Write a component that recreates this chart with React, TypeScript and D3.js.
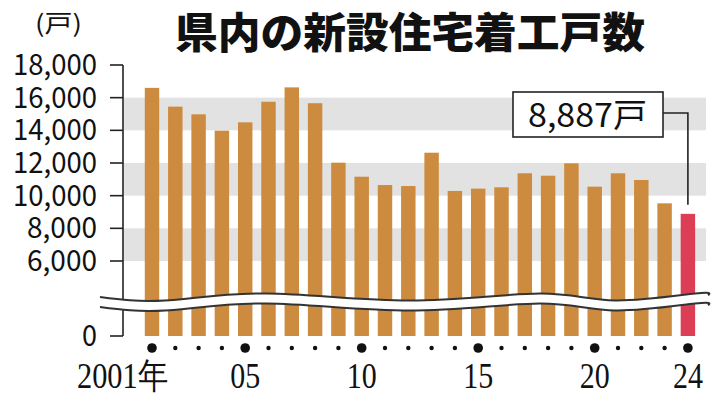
import React from "react";
import * as d3 from "d3";

const years = ["2001","2002","2003","2004","2005","2006","2007","2008","2009","2010","2011","2012","2013","2014","2015","2016","2017","2018","2019","2020","2021","2022","2023","2024"];
const starts = [16600,15450,14980,13980,14490,15750,16630,15660,12020,11160,10650,10590,12630,10290,10430,10510,11370,11220,11980,10550,11370,10960,9530,8887];
const yTicks = [0,6000,8000,10000,12000,14000,16000,18000];
const bands = [[6000,8000],[10000,12000],[14000,16000]];
const majorYears = ["2001","2005","2010","2015","2020","2024"];
const xLabels: Record<string,string> = {"2001":"2001年","2005":"05","2010":"10","2015":"15","2020":"20","2024":"24"};
const title = "県内の新設住宅着工戸数";
const unit = "(戸)";
const callout = "8,887戸";

const W = 711, H = 400;
const BAR = "#CC8B3E";
const LAST = "#DC3F55";

export default function App() {
  const x = d3.scaleBand<string>().domain(years).range([140.35, 699.55]).paddingInner(0.38).paddingOuter(0.19);
  const y = d3.scaleLinear().domain([0, 6000, 18000]).range([336, 261, 65]);
  const cx = (yr: string) => (x(yr) as number) + x.bandwidth() / 2;

  const waveNodes: [number, number][] = [[100,0],[165,1],[267,-1],[410,1],[540,-1],[615,1],[695,-1],[708,-0.5]];
  const amp = 3.5;
  const line = d3.line<[number, number]>().x(d => d[0]).y(d => d[1]).curve(d3.curveNatural);
  const upper = waveNodes.map(([a, b]) => [a, 297 + b * amp] as [number, number]);
  const lower = waveNodes.map(([a, b]) => [a, 307 + b * amp] as [number, number]);
  const area = d3.area<[number, number]>().x(d => d[0]).y0(d => d[1]).y1(d => d[1] + 10).curve(d3.curveNatural);

  const lastYr = years[years.length - 1];
  const lastTop = y(starts[starts.length - 1]);

  return (
    <div style={{ position: "absolute", left: 0, top: 0 }}>
      <svg width={W} height={H} style={{ display: "block", background: "#fff" }}>
        {bands.map(([a, b], i) => (
          <rect key={i} x={124} y={y(b)} width={582} height={y(a) - y(b)} fill="#E2E2E2" />
        ))}
        {years.map((yr, i) => (
          <rect key={yr} x={x(yr)} y={y(starts[i])} width={x.bandwidth()} height={y(0) - y(starts[i])}
            fill={i === years.length - 1 ? LAST : BAR} />
        ))}
        <line x1={123} x2={123} y1={y(18000)} y2={y(0)} stroke="#222" strokeWidth={1.6} />
        {yTicks.map(t => (
          <g key={t}>
            <line x1={110} x2={123} y1={y(t)} y2={y(t)} stroke="#222" strokeWidth={1.6} />
            <text x={97} y={y(t) + 10} textAnchor="end" fontFamily="'Noto Sans CJK JP', 'Noto Sans', sans-serif"
              fontSize={29} fill="#111" textLength={t === 0 ? 15 : t >= 10000 ? 84 : 70} lengthAdjust="spacingAndGlyphs">
              {d3.format(",")(t)}
            </text>
          </g>
        ))}
        <path d={area(upper) as string} fill="#fff" />
        <path d={line(upper) as string} fill="none" stroke="#333" strokeWidth={2} />
        <path d={line(lower) as string} fill="none" stroke="#333" strokeWidth={2} />
        {years.map(yr => (
          <circle key={yr} cx={cx(yr)} cy={348} r={majorYears.includes(yr) ? 4.8 : 2.2} fill="#111" />
        ))}
        {majorYears.map(yr => {
          const lab = xLabels[yr];
          const isFirst = yr === "2001";
          return (
            <text key={yr} x={isFirst ? 168 : cx(yr)} y={388} textAnchor={isFirst ? "end" : "middle"}
              fontFamily="'Liberation Serif', 'DejaVu Serif', serif" fontSize={36} fill="#111"
              textLength={isFirst ? 91 : 30} lengthAdjust="spacingAndGlyphs">
              {lab}
            </text>
          );
        })}
        <text x={35} y={32} fontFamily="'Noto Sans CJK JP', sans-serif" fontSize={24} fill="#111"
          textLength={47} lengthAdjust="spacingAndGlyphs">{unit}</text>
        <text x={175} y={48} fontFamily="'Noto Sans CJK JP', sans-serif" fontWeight={900} fontSize={42} fill="#111"
          textLength={470} lengthAdjust="spacingAndGlyphs">{title}</text>
        <polyline points={`663,113 ${cx(lastYr)},113 ${cx(lastYr)},${lastTop - 9}`} fill="none" stroke="#222" strokeWidth={1.6} />
        <rect x={513} y={92} width={150} height={45} fill="#fff" stroke="#222" strokeWidth={1.6} />
        <text x={528} y={127} fontFamily="'Noto Sans CJK JP', sans-serif" fontSize={33} fill="#111"
          textLength={119} lengthAdjust="spacingAndGlyphs">{callout}</text>
      </svg>
    </div>
  );
}
